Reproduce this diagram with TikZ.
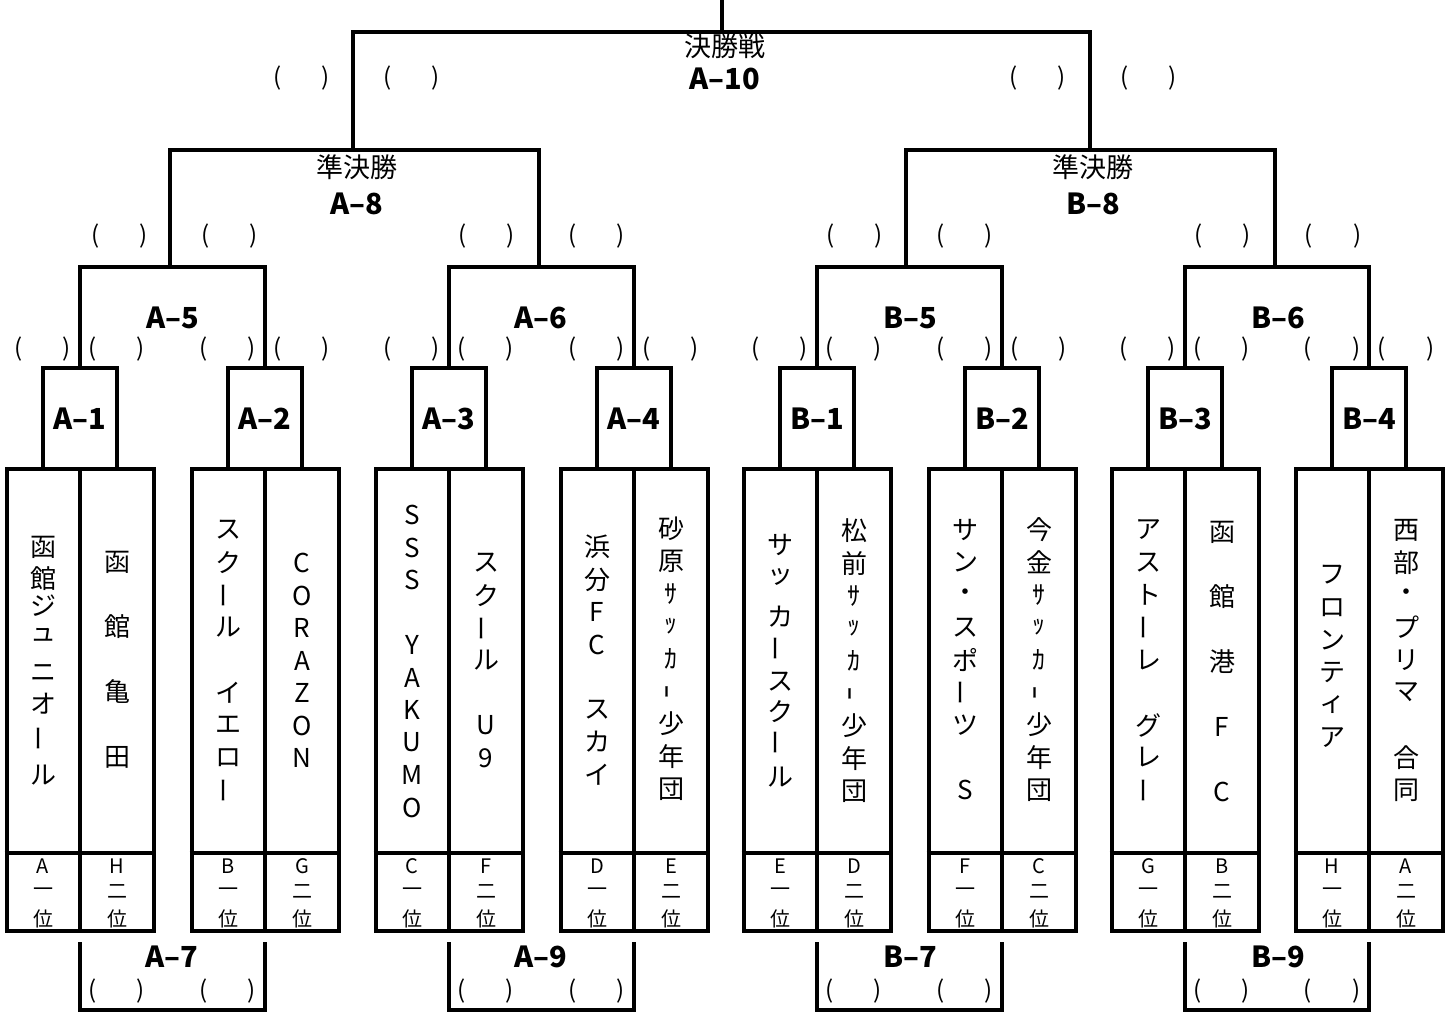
\documentclass[tikz,border=0pt]{standalone}
\usepackage{fontspec}
\setmainfont{Noto Sans CJK JP}
\usepackage{graphicx}
\usetikzlibrary{calc}
\tikzset{
  ln/.style={line width=4pt, line join=miter},
  lbl/.style={font=\fontsize{29}{30}\selectfont\bfseries, inner sep=0pt},
  jlbl/.style={font=\fontsize{27}{28}\selectfont, inner sep=0pt},
  nm/.style={font=\fontsize{26}{26}\selectfont, inner sep=0pt},
  rk/.style={font=\fontsize{20}{20}\selectfont, inner sep=0pt},
  paren/.style={font=\fontsize{24}{24}\selectfont, inner sep=0pt},
  matchbox/.style={ln, draw, minimum width=74pt, minimum height=101pt, inner sep=0pt, lbl},
  teambox/.style={ln, draw, minimum width=147pt, minimum height=462pt, inner sep=0pt},
}
\newcommand\vb{\rotatebox[origin=c]{90}{ー}}
\newcommand\hvb{\rotatebox[origin=c]{90}{ｰ}}
\newcommand\pq{(\hspace{40pt})}
\newcommand\namecol[4]{%
  \foreach \c [count=\k] in {#4} {\node[nm] (n#1-\k) at (#1, #2+#3*\k-#3) {\c};}}
\begin{document}
\begin{tikzpicture}[x=1pt,y=-1pt]
\fill[white] (0,0) rectangle (1456,1012);
\useasboundingbox (0,0) rectangle (1456,1012);

% team boxes
\foreach \d [count=\i] in {80,265,449,634,817,1002,1185,1369} {
  \node[teambox] (g\i) at (\d,700) {};
  \draw[ln] (g\i.north) -- (g\i.south);
  \draw[ln] (g\i.west |- 0,853) -- (g\i.east |- 0,853);
}
% first round match boxes
\foreach \d/\t [count=\i] in {80/A–1,265/A–2,449/A–3,634/A–4,817/B–1,1002/B–2,1185/B–3,1369/B–4}
  \node[matchbox] (m\i) at (\d,418.5) {\t};

% second round brackets
\coordinate (s1) at (170,267);
\coordinate (s2) at (539,267);
\coordinate (s3) at (906,267);
\coordinate (s4) at (1275,267);
\draw[ln] (m1.north) |- (m2.north |- s1) -- (m2.north);
\draw[ln] (m3.north) |- (m4.north |- s2) -- (m4.north);
\draw[ln] (m5.north) |- (m6.north |- s3) -- (m6.north);
\draw[ln] (m7.north) |- (m8.north |- s4) -- (m8.north);

% semifinal brackets
\coordinate (tA) at (353,150);
\coordinate (tB) at (1090,150);
\draw[ln] (s1) |- (tA) -| (s2);
\draw[ln] (s3) |- (tB) -| (s4);

% final
\coordinate (fA) at (353,32);
\coordinate (fB) at (1090,32);
\coordinate (fc) at (722,32);
\coordinate (top) at (722,-5);
\draw[ln] (tA) -- (fA) -- (fB) -- (tB);
\draw[ln] (fc) -- (top);

% bottom brackets
\draw[ln] ($(g1.south)+(0,9)$) |- ($(g2.south)+(0,77)$) -- ($(g2.south)+(0,9)$);
\draw[ln] ($(g3.south)+(0,9)$) |- ($(g4.south)+(0,77)$) -- ($(g4.south)+(0,9)$);
\draw[ln] ($(g5.south)+(0,9)$) |- ($(g6.south)+(0,77)$) -- ($(g6.south)+(0,9)$);
\draw[ln] ($(g7.south)+(0,9)$) |- ($(g8.south)+(0,77)$) -- ($(g8.south)+(0,9)$);

% labels
\node[jlbl] (finalj) at (725,46) {決勝戦};
\node[lbl] (a10) at (725,79) {A–10};
\node[jlbl] (semiA) at (357,167) {準決勝};
\node[lbl] (a8) at (357,204) {A–8};
\node[jlbl] (semiB) at (1093,167) {準決勝};
\node[lbl] (b8) at (1093,204) {B–8};
\node[lbl] (a5) at (173,318) {A–5};
\node[lbl] (a6) at (541,318) {A–6};
\node[lbl] (b5) at (910,318) {B–5};
\node[lbl] (b6) at (1278,318) {B–6};
\node[lbl] (a7) at (172,957) {A–7};
\node[lbl] (a9) at (541,957) {A–9};
\node[lbl] (b7) at (910,957) {B–7};
\node[lbl] (b9) at (1278,957) {B–9};

% parentheses
\foreach \x [count=\i] in {302,412,1038,1149}
  \node[paren] (pf\i) at (\x,78) {\pq};
\foreach \x [count=\i] in {120,230,487,597,855,965,1223,1333}
  \node[paren] (ps\i) at (\x,236) {\pq};
\foreach \d [count=\i] in {80,265,449,634,817,1002,1185,1369} {
  \node[paren] (pl\i) at (\d-37,349) {\pq};
  \node[paren] (pr\i) at (\d+37,349) {\pq};
}
\foreach \d/\e [count=\i] in {80/265,449/634,817/1002,1185/1369} {
  \node[paren] (pbl\i) at (\d+37,991) {\pq};
  \node[paren] (pbr\i) at (\e-37,991) {\pq};
}

% ranks
\foreach \d/\a/\b [count=\i] in {80/A/H,265/B/G,449/C/F,634/D/E,817/E/D,1002/F/C,1185/G/B,1369/H/A} {
  \node[rk] (ra\i) at (\d-37,866.5) {\a};
  \node[rk] (rb\i) at (\d-37,892) {一};
  \node[rk] (rc\i) at (\d-37,918.5) {位};
  \node[rk] (rd\i) at (\d+37,866.5) {\b};
  \node[rk] (re\i) at (\d+37,891.5) {二};
  \node[rk] (rf\i) at (\d+37,918.5) {位};
}

% team names
\foreach \c/\y [count=\k] in {函/547,館/579,ジ/606,ュ/635,ニ/673,オ/704,\vb/738,ル/775}
  \node[nm] (c1-\k) at (43,\y) {\c};
\namecol{117}{562}{32.5}{函,{},館,{},亀,{},田}
\namecol{228}{530}{32.5}{ス,ク,\vb,ル,{},イ,エ,ロ,\vb}
\namecol{302}{563}{32.5}{C,O,R,A,Z,O,N}
\namecol{412}{515}{32.5}{S,S,S,{},Y,A,K,U,M,O}
\namecol{486}{563}{32.5}{ス,ク,\vb,ル,{},U,9}
\namecol{597}{547}{32.5}{浜,分,F,C,{},ス,カ,イ}
\namecol{671}{529}{32.5}{砂,原,ｻ,ｯ,ｶ,\hvb,少,年,団}
\foreach \c/\y [count=\k] in {サ/545,ッ/577,カ/617,\vb/648,ス/682,ク/712,\vb/742,ル/777}
  \node[nm] (c9-\k) at (780,\y) {\c};
\namecol{854}{531}{32.5}{松,前,ｻ,ｯ,ｶ,\hvb,少,年,団}
\namecol{965}{530}{32.5}{サ,ン,・,ス,ポ,\vb,ツ,{},S}
\namecol{1039}{530}{32.5}{今,金,ｻ,ｯ,ｶ,\hvb,少,年,団}
\namecol{1148}{530}{32.5}{ア,ス,ト,\vb,レ,{},グ,レ,\vb}
\namecol{1222}{532}{32.5}{函,{},館,{},港,{},F,{},C}
\namecol{1332}{575}{32.5}{フ,ロ,ン,テ,ィ,ア}
\namecol{1406}{530}{32.5}{西,部,・,プ,リ,マ,{},合,同}
\end{tikzpicture}
\end{document}
